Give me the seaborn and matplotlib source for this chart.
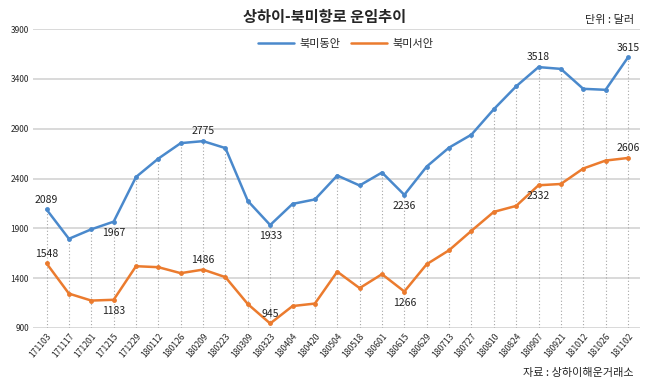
import pandas as pd
import seaborn as sns
import matplotlib.pyplot as plt
import numpy as np

# Data
dates = ['171103', '171117', '171201', '171215', '171229', '180112', '180126',
         '180209', '180223', '180309', '180323', '180404', '180420', '180504',
         '180518', '180601', '180615', '180629', '180713', '180727', '180810',
         '180824', '180907', '180921', '181012', '181026', '181102']
east = [2089, 1795, 1890, 1967, 2415, 2600, 2755, 2775, 2705, 2175, 1933, 2145,
        2190, 2430, 2330, 2460, 2236, 2520, 2710, 2840, 3095, 3325, 3518, 3500,
        3300, 3290, 3615]
west = [1548, 1245, 1175, 1183, 1520, 1510, 1450, 1486, 1410, 1140, 945, 1120,
        1145, 1465, 1300, 1440, 1266, 1540, 1680, 1875, 2065, 2125, 2332, 2345,
        2500, 2580, 2606]
series_names = ['북미동안', '북미서안']
yticks = [900, 1400, 1900, 2400, 2900, 3400, 3900]

# labelled points: index -> 'above' / 'below'
east_labels = {0: 'above', 3: 'below', 7: 'above', 10: 'below', 16: 'below', 22: 'above', 26: 'above'}
west_labels = {0: 'above', 3: 'below', 7: 'above', 10: 'above', 16: 'below', 22: 'below', 26: 'above'}

sns.set_style('white')
plt.rcParams['font.family'] = ['Noto Sans CJK KR', 'DejaVu Sans']

df = pd.DataFrame({'pos': list(range(len(dates))) * 2,
                   'value': east + west,
                   'series': [series_names[0]] * len(dates) + [series_names[1]] * len(dates)})

colors = {'북미동안': '#4a89cc', '북미서안': '#eb7b2e'}

fig = plt.figure(figsize=(6.5, 3.87), dpi=100)
ax = fig.add_axes([0.051, 0.1525, 0.934, 0.7725])

# drop lines from the top series to the axis bottom
top = np.maximum(east, west)
ax.vlines(range(len(dates)), yticks[0], top, colors='#a6a6a6', linestyles=(0, (1, 2)), linewidth=0.8, zorder=1)

for y in yticks:
    ax.axhline(y, color='#d9d9d9', linewidth=1.4, zorder=0)

sns.lineplot(data=df, x='pos', y='value', hue='series', palette=colors, marker='o',
             markersize=3.5, markeredgewidth=0, linewidth=1.8, ax=ax, zorder=3)

for vals, labs in [(east, east_labels), (west, west_labels)]:
    for i, where in labs.items():
        off = 7 if where == 'above' else -8
        ax.annotate(str(vals[i]), (i, vals[i]), xytext=(0, off), textcoords='offset points',
                    ha='center', va='center', fontsize=7.5, color='#222222')

ax.set_xlim(-0.6, 26.55)
ax.set_ylim(yticks[0], yticks[-1])
ax.set_xticks(range(len(dates)))
ax.set_xticklabels(dates, rotation=50, ha='right', rotation_mode='anchor', fontsize=6.2)
ax.set_yticks(yticks)
ax.set_yticklabels([str(y) for y in yticks], fontsize=6)
ax.tick_params(axis='both', length=0, pad=3)
ax.set_xlabel('')
ax.set_ylabel('')
for s in ax.spines.values():
    s.set_visible(False)

leg = ax.legend(loc='upper center', bbox_to_anchor=(0.515, 1.0), ncol=2, frameon=False,
                fontsize=8, handlelength=3.2, handletextpad=0.5, columnspacing=1.0)
for line in leg.get_lines():
    line.set_marker('')
    line.set_linewidth(1.8)

fig.text(0.5, 0.955, '상하이-북미항로 운임추이', ha='center', va='center', fontsize=11, fontweight='bold')
fig.text(0.975, 0.948, '단위 : 달러', ha='right', va='center', fontsize=8)
fig.text(0.975, 0.035, '자료 : 상하이해운거래소', ha='right', va='center', fontsize=8)

fig.savefig('out.png', dpi=100)
